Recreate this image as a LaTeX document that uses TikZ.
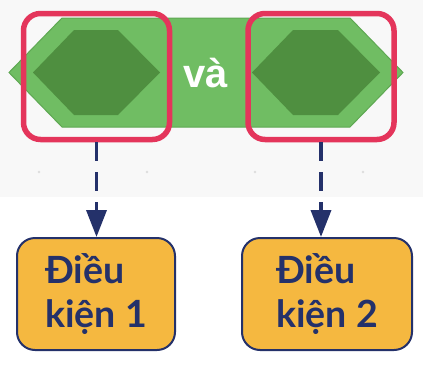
\documentclass[tikz,border=0pt]{standalone}
\usepackage{fontspec}
\setmainfont{Lato}
\newfontfamily\arialf{Liberation Sans}
\usetikzlibrary{arrows.meta,calc}
\definecolor{bgg}{HTML}{F8F8F8}
\definecolor{dotc}{HTML}{DDDDDD}
\definecolor{gl}{HTML}{70BD63}
\definecolor{gb}{HTML}{5EA852}
\definecolor{gd}{HTML}{4F8F40}
\definecolor{redc}{HTML}{E4355B}
\definecolor{navy}{HTML}{24316A}
\definecolor{yel}{HTML}{F5B840}
\tikzset{
  redbox/.style={draw=redc, line width=5.5pt, rounded corners=17pt, minimum width=146pt, minimum height=126pt, inner sep=0pt},
  ybox/.style={draw=navy, fill=yel, line width=2pt, rounded corners=18pt, minimum height=112pt, inner sep=0pt, align=left, text=navy, font=\fontsize{37.5}{44.5}\selectfont\bfseries},
  conn/.style={draw=navy, line width=3.6pt, dash pattern=on 19pt off 11pt, -{Triangle[length=27pt,width=20pt]}},
  outerhex/.style={fill=gl, draw=gb, line width=1pt},
  innerhex/.style={fill=gd}
}
\begin{document}
\begin{tikzpicture}[x=1pt,y=-1pt]
\useasboundingbox (0,0) rectangle (423,367);
\fill[bgg] (0,0) rectangle (423,197);
\foreach \x in {39,147,255,363} \fill[dotc] (\x,172) circle (1.4);
\path[outerhex] (9,72.5) -- (62,18) -- (350,18) -- (403,72.5) -- (350,127) -- (62,127) -- cycle;
\path[innerhex] (33,72.5) -- (74,30) -- (118,30) -- (160,72.5) -- (118,115) -- (74,115) -- cycle;
\path[innerhex] (252,72.5) -- (293,30) -- (338,30) -- (380,72.5) -- (338,115) -- (293,115) -- cycle;
\node[anchor=base, text=white, font=\arialf\fontsize{40}{48}\selectfont\bfseries] (va) at (206,87) {và};
\node[redbox] (rl) at (96.5,76.5) {};
\node[redbox] (rr) at (321,76.5) {};
\node[ybox, minimum width=158pt] (yl) at (96,294) {Điều\\kiện 1};
\node[ybox, minimum width=170pt] (yr) at (327,294) {Điều\\kiện 2};
\draw[conn] (rl.south) -- (rl.south |- yl.north);
\draw[conn] (rr.south) -- (rr.south |- yr.north);
\end{tikzpicture}
\end{document}
